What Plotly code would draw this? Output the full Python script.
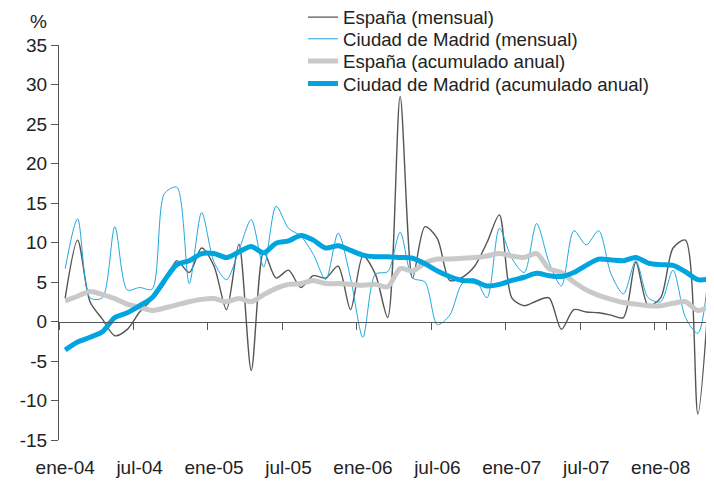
import plotly.graph_objects as go

meses = ['ene', 'feb', 'mar', 'abr', 'may', 'jun', 'jul', 'ago', 'sep', 'oct', 'nov', 'dic']
periodos = [f"{m}-{y:02d}" for y in range(4, 9) for m in meses][:53]

espana_mensual = [3.0, 10.3, 2.5, 0.3, -1.8, -1.0, 1.2, 2.8, 4.8, 7.7,
                  6.2, 9.3, 7.0, 1.5, 9.8, -6.2, 8.8, 5.5, 6.5, 4.3,
                  5.8, 5.5, 7.0, 1.5, 8.3, 6.0, 0.5, 28.5, 5.5, 12.0,
                  10.5, 5.2, 5.6, 7.0, 10.0, 13.5, 3.0, 2.0, 2.6, 3.0,
                  -1.0, 1.5, 1.2, 1.1, 0.8, 0.5, 7.5, 2.0, 3.0, 9.3,
                  10.3, -11.7, 6.5]
madrid_mensual = [6.7, 13.0, 3.0, 3.0, 12.0, 4.0, 4.3, 4.1, 16.2, 17.0,
                  4.8, 13.8, 7.5, 5.3, 9.0, 12.9, 6.9, 14.6, 11.8, 10.8,
                  8.5, 5.3, 11.2, 5.5, -2.0, 6.0, 6.3, 11.3, 5.5, 5.0,
                  -0.4, 0.8, 4.8, 5.4, 3.0, 11.8, 8.0, 6.2, 12.4, 7.5,
                  4.5, 11.5, 9.7, 11.5, 6.0, 3.5, 7.7, 3.0, 2.5, 6.5,
                  0.5, -1.5, 8.6]
espana_acum = [2.6, 3.2, 3.8, 3.4, 2.9, 2.2, 1.8, 1.4, 1.7, 2.1,
               2.5, 2.8, 2.9, 2.5, 2.9, 2.5, 3.4, 4.2, 4.7, 4.8,
               5.2, 4.8, 4.8, 4.7, 4.6, 4.7, 4.4, 6.7, 6.4, 7.4,
               7.9, 7.9, 8.0, 8.1, 8.3, 8.6, 8.3, 8.1, 8.6, 6.7,
               6.2, 5.0, 4.0, 3.3, 2.8, 2.4, 2.2, 2.0, 2.0, 2.3,
               2.5, 1.4, 2.0]
madrid_acum = [-3.6, -2.6, -2.0, -1.3, 0.5, 1.1, 2.0, 3.0, 5.2, 7.2,
               7.7, 8.6, 8.6, 8.1, 8.8, 9.5, 8.7, 9.9, 10.2, 10.9,
               10.3, 9.3, 9.6, 9.0, 8.4, 8.2, 8.2, 8.1, 8.0, 7.3,
               6.4, 5.7, 5.2, 5.1, 4.5, 4.7, 5.2, 5.6, 6.1, 5.8,
               5.7, 6.2, 7.1, 7.9, 7.8, 7.7, 8.1, 7.4, 7.2, 7.1,
               6.3, 5.3, 5.4]

nombres = ["España (mensual)", "Ciudad de Madrid (mensual)",
           "España (acumulado anual)", "Ciudad de Madrid (acumulado anual)"]
series = [espana_mensual, madrid_mensual, espana_acum, madrid_acum]
colores = ["#555555", "#1ea8e0", "#c9c9c9", "#00a5e0"]
grosores = [1.4, 1.0, 5.0, 5.0]

tick_labels = [p for p in periodos if p.startswith('ene') or p.startswith('jul')]
y_ticks = [-15, -10, -5, 0, 5, 10, 15, 20, 25, 30, 35]
y_ticktext = [str(v) for v in y_ticks]

FONT = "Liberation Sans, Arial, Helvetica, sans-serif"
# the page body adds an 8px offset; layout expressed in window pixels minus that offset
OFF = 8
W, H = 714 - OFF, 485 - OFF
ML, MT = 59 - OFF, 45 - OFF
MR = 0
MB = H - (440 - OFF)
PH = H - MT - MB
PW = W - ML - MR

fig = go.Figure()
legend_names = ["legend", "legend2", "legend3", "legend4"]
for nombre, vals, col, w, lg in zip(nombres, series, colores, grosores, legend_names):
    fig.add_trace(go.Scatter(x=periodos, y=vals, name=nombre, mode="lines",
                             line=dict(color=col, width=w, shape="spline", smoothing=0.8),
                             legend=lg, hoverinfo="skip"))

row_centers = [17.5, 39.2, 61.5, 83.8]
leg_x = (303 - 59) / PW
layout_legends = {}
for lg, yc in zip(legend_names, row_centers):
    layout_legends[lg] = dict(x=leg_x, xanchor="left", y=1 + (45 - yc) / PH, yanchor="middle",
                              bgcolor="rgba(0,0,0,0)", borderwidth=0,
                              font=dict(family=FONT, size=18.6, color="#222222"))

fig.update_layout(
    width=W, height=H,
    margin=dict(l=ML, r=MR, t=MT, b=MB, pad=0, autoexpand=False),
    paper_bgcolor="white", plot_bgcolor="white",
    font=dict(family=FONT, size=19, color="#222222"),
    showlegend=True,
    **layout_legends,
    xaxis=dict(type="category", categoryorder="array", categoryarray=periodos,
               range=[-0.5, 52.3], anchor="free", position=15 / 50,
               showline=True, linecolor="#555555", linewidth=1,
               ticks="outside", ticklen=7, tickcolor="#555555", tickwidth=1,
               tickson="boundaries", tickmode="array", tickvals=tick_labels, ticktext=tick_labels,
               tickangle=0, automargin=False,
               showgrid=False, zeroline=False, ticklabelstandoff=129,
               tickfont=dict(family=FONT, size=19, color="#222222")),
    yaxis=dict(range=[-15, 35], tickmode="array", tickvals=y_ticks, ticktext=y_ticktext,
               showline=True, linecolor="#555555", linewidth=1,
               ticks="outside", ticklen=7, tickcolor="#555555", tickwidth=1,
               showgrid=False, zeroline=False, automargin=False,
               tickfont=dict(family=FONT, size=19, color="#222222")),
    annotations=[dict(text="%", xref="paper", yref="paper", x=(38 - 59) / PW, y=1 + (45 - 22) / PH,
                      xanchor="center", yanchor="middle", showarrow=False,
                      font=dict(family=FONT, size=19, color="#222222"))],
)

fig.write_html("out.html")
